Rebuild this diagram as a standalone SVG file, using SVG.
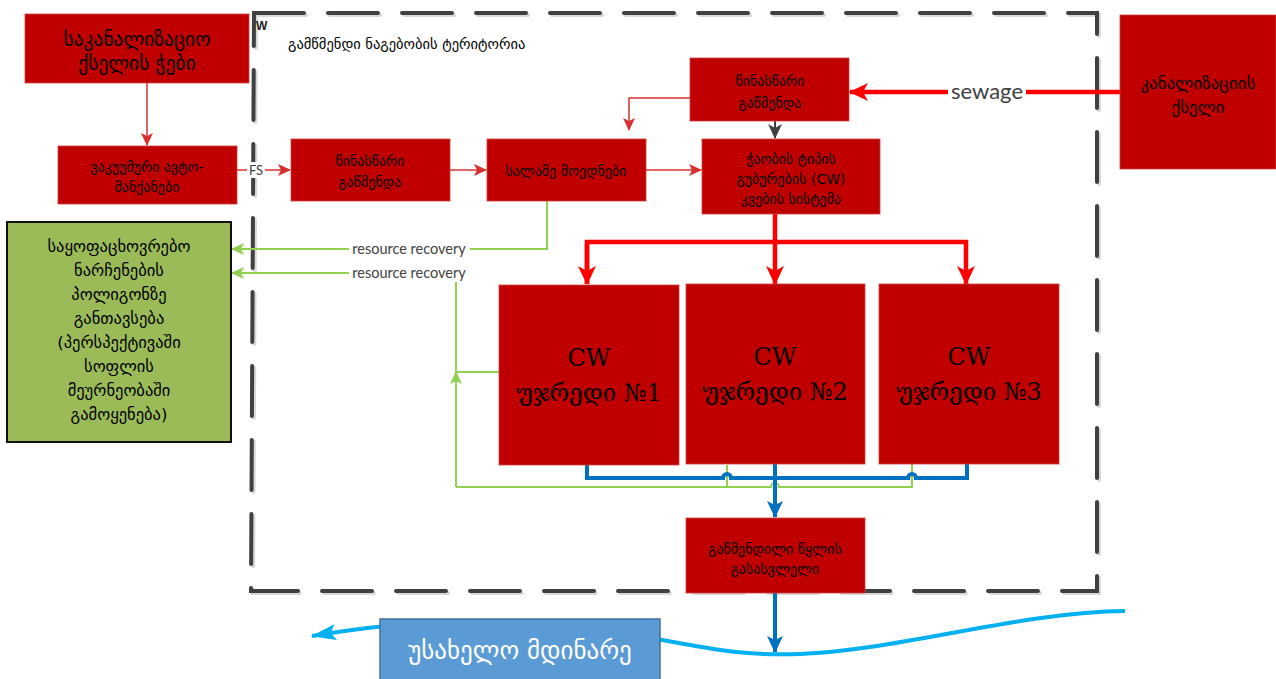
<svg xmlns="http://www.w3.org/2000/svg" width="1276" height="679" viewBox="0 0 1276 679">
<style>
.box{fill:#C00000;stroke:#D04040;stroke-width:0.8}
.t{font-family:"DejaVu Sans",sans-serif;fill:#000;text-anchor:middle}
.s12{font-size:14px}
.s14{font-size:16.5px}
.cw{font-family:"DejaVu Serif","DejaVu Sans",serif;font-size:24px;fill:#000;text-anchor:middle}
.lbl{font-family:Lato,"Open Sans",sans-serif;fill:#404040;text-anchor:middle}
.thin{fill:none;stroke:#D83030;stroke-width:1.5}
.thick{fill:none;stroke:#FF0000;stroke-width:4.5}
.green{fill:none;stroke:#92D050;stroke-width:2}
.blue{fill:none;stroke:#0070C0;stroke-width:4}
</style>
<defs>
<marker id="mThin" markerUnits="userSpaceOnUse" markerWidth="14" markerHeight="14" refX="12" refY="7" orient="auto"><path d="M0,1 L13,7 L0,13 L3,7 Z" fill="#D83030"/></marker>
<marker id="mThick" markerUnits="userSpaceOnUse" markerWidth="20" markerHeight="20" refX="18" refY="10" orient="auto"><path d="M0,1 L19,10 L0,19 L5,10 Z" fill="#FF0000"/></marker>
<marker id="mGray" markerUnits="userSpaceOnUse" markerWidth="16" markerHeight="16" refX="14" refY="8" orient="auto"><path d="M0,1 L15,8 L0,15 L4,8 Z" fill="#404040"/></marker>
<marker id="mGreen" markerUnits="userSpaceOnUse" markerWidth="14" markerHeight="14" refX="12" refY="7" orient="auto"><path d="M0,1 L13,7 L0,13 L3,7 Z" fill="#92D050"/></marker>
<marker id="mBlue" markerUnits="userSpaceOnUse" markerWidth="18" markerHeight="18" refX="16" refY="9" orient="auto"><path d="M0,1 L17,9 L0,17 L4,9 Z" fill="#0070C0"/></marker>
<marker id="mLBlue" markerUnits="userSpaceOnUse" markerWidth="26" markerHeight="20" refX="24" refY="10" orient="auto"><path d="M0,2 L25,10 L0,18 L5,10 Z" fill="#00B0F0"/></marker>
</defs>

<g id="boundary">
<path d="M256,15 L1099,15 L1099,593 L253,593 Z" fill="none" stroke="#d8d8d8" stroke-width="4" stroke-dasharray="50 24" stroke-linecap="round"/>
<path d="M254,13 L1097,13 L1097,591 L251,591 Z" fill="none" stroke="#404040" stroke-width="4" stroke-dasharray="50 24" stroke-linecap="round"/>
<text x="256" y="30" font-family="Liberation Sans,sans-serif" font-weight="bold" font-size="12" fill="#222">W</text>
<text x="288" y="49" class="t" style="text-anchor:start;font-size:14.5px">გამწმენდი ნაგებობის ტერიტორია</text>
</g>

<g id="connectors">
<path class="thin" d="M147,83 L147,145" marker-end="url(#mThin)"/>
<path class="thin" d="M237,170 L290,170" marker-end="url(#mThin)"/>
<rect x="247" y="162" width="18" height="16" fill="#fff"/>
<text x="256" y="175" class="lbl" font-size="13">FS</text>
<path class="thin" d="M450,170 L486,170" marker-end="url(#mThin)"/>
<path class="thin" d="M646,170 L701,170" stroke="#F05050" marker-end="url(#mThin)"/>
<path class="thin" d="M690,98 L629,98 L629,130" marker-end="url(#mThin)"/>
<path d="M775,121 L775,138" stroke="#404040" stroke-width="2" fill="none" marker-end="url(#mGray)"/>
<path class="thick" d="M1120,92 L850,92" marker-end="url(#mThick)"/>
<rect x="948" y="80" width="78" height="24" fill="#fff"/>
<text x="987" y="99" class="lbl" font-size="22">sewage</text>
<path class="thick" d="M775,214 L775,284" marker-end="url(#mThick)"/>
<path class="thick" d="M587,284 L587,242 L966,242 L966,284" marker-end="url(#mThick)"/>
<path class="thick" d="M587,244 L587,284" marker-end="url(#mThick)"/>
<path class="green" d="M547,201 L547,249 L232,249" marker-end="url(#mGreen)"/>
<path class="green" d="M456,487 L456,273 L232,273" marker-end="url(#mGreen)"/>
<path class="green" d="M456,420 L456,372" marker-end="url(#mGreen)"/>
<path class="green" d="M499,372 L456,372"/>
<path class="green" d="M456,487 L771,487 A4,4 0 0 1 779,487 L912,487 L912,464 M727,487 L727,465"/>
<rect x="349" y="240" width="121" height="18" fill="#fff"/>
<text x="409" y="254" class="lbl" font-size="14.5">resource recovery</text>
<rect x="349" y="264" width="121" height="18" fill="#fff"/>
<text x="409" y="278" class="lbl" font-size="14.5">resource recovery</text>
<path class="blue" d="M587,465 L587,478 L723,478 A4,4 0 0 1 731,478 L908,478 A4,4 0 0 1 916,478 L967,478 L967,464"/>
<path class="blue" d="M775,464 L775,517" marker-end="url(#mBlue)"/>
<path class="blue" d="M775,593 L775,652" marker-end="url(#mBlue)"/>
<path d="M1125,611 C1020,612 900,650 800,654 C720,657 680,640 600,630 C500,618 420,618 312,636" fill="none" stroke="#00B0F0" stroke-width="4" marker-end="url(#mLBlue)"/>
</g>

<g id="n-manholes">
<rect class="box" x="25" y="14" width="224" height="69"/>
<text class="t" x="137" y="46" font-size="19.5">საკანალიზაციო</text>
<text class="t" x="137" y="70" font-size="19.5">ქსელის ჭები</text>
</g>
<g id="n-vacuum">
<rect class="box" x="58" y="146" width="179" height="58"/>
<text class="t s12" x="147" y="172">ვაკუუმური ავტო-</text>
<text class="t s12" x="147" y="192">მანქანები</text>
</g>
<g id="n-pre1">
<rect class="box" x="291" y="139" width="159" height="62"/>
<text class="t s12" x="370" y="166">წინასწარი</text>
<text class="t s12" x="370" y="187">გაწმენდა</text>
</g>
<g id="n-sludge">
<rect class="box" x="487" y="139" width="159" height="62"/>
<text class="t s12" x="566" y="176">სალამე მოედნები</text>
</g>
<g id="n-pre2">
<rect class="box" x="690" y="58" width="159" height="63"/>
<text class="t s12" x="770" y="86">წინასწარი</text>
<text class="t s12" x="770" y="108">გაწმენდა</text>
</g>
<g id="n-feed">
<rect class="box" x="702" y="139" width="178" height="75"/>
<text class="t s12" x="791" y="164">ჭაობის ტიპის</text>
<text class="t s12" x="791" y="184">გუბურების (CW)</text>
<text class="t s12" x="791" y="204">კვების სისტემა</text>
</g>
<g id="n-sewer">
<rect class="box" x="1120" y="15" width="156" height="154"/>
<text class="t" x="1198" y="89" font-size="17">კანალიზაციის</text>
<text class="t" x="1198" y="113" font-size="17">ქსელი</text>
</g>
<g id="n-landfill">
<rect x="7" y="222" width="224" height="220" fill="#9BBB59" stroke="#111" stroke-width="2"/>
<text class="t s14" x="119" y="252">საყოფაცხოვრებო</text>
<text class="t s14" x="119" y="276">ნარჩენების</text>
<text class="t s14" x="119" y="300">პოლიგონზე</text>
<text class="t s14" x="119" y="324">განთავსება</text>
<text class="t s14" x="119" y="348">(პერსპექტივაში</text>
<text class="t s14" x="119" y="372">სოფლის</text>
<text class="t s14" x="119" y="396">მეურნეობაში</text>
<text class="t s14" x="119" y="420">გამოყენება)</text>
</g>
<g id="n-cw1">
<rect class="box" x="499" y="285" width="180" height="180"/>
<text class="cw" x="589" y="366">CW</text>
<text class="cw" x="589" y="401">უჯრედი №1</text>
</g>
<g id="n-cw2">
<rect class="box" x="686" y="284" width="179" height="180"/>
<text class="cw" x="775" y="365">CW</text>
<text class="cw" x="775" y="400">უჯრედი №2</text>
</g>
<g id="n-cw3">
<rect class="box" x="879" y="284" width="180" height="180"/>
<text class="cw" x="969" y="365">CW</text>
<text class="cw" x="969" y="400">უჯრედი №3</text>
</g>
<g id="n-outlet">
<rect class="box" x="686" y="518" width="179" height="75"/>
<text class="t s12" x="775" y="554">გაწმენდილი წყლის</text>
<text class="t s12" x="775" y="574">გასასვლელი</text>
</g>
<g id="n-river">
<rect x="380" y="619" width="280" height="62" fill="#5B9BD5" stroke="#41719C" stroke-width="1.5"/>
<text x="520" y="659" font-family="DejaVu Sans,sans-serif" font-size="25" fill="#fff" text-anchor="middle">უსახელო მდინარე</text>
</g>
</svg>
